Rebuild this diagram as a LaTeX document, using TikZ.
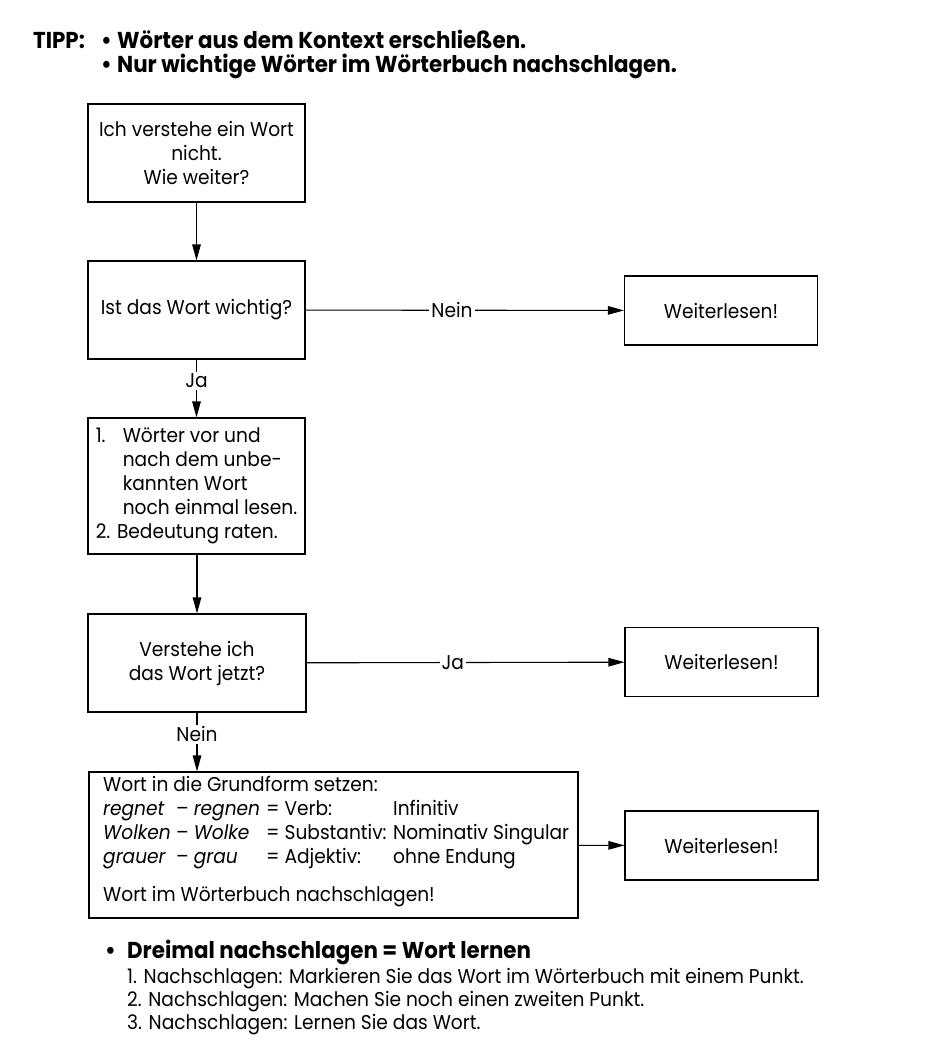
\documentclass[tikz,border=0pt]{standalone}
\usepackage{fontspec}
\setmainfont{Poppins}[FakeStretch=0.93]
\usetikzlibrary{arrows.meta}
\newcommand{\txt}{\fontsize{20}{24}\selectfont}
\newcommand{\hdr}{\fontsize{23}{24}\selectfont\bfseries}
\begin{document}
\begin{tikzpicture}[x=1pt, y=-1pt,
  box/.style={draw, line width=1.1pt, minimum width=217pt, minimum height=98pt, align=center, inner sep=0pt, font=\txt},
  weiter/.style={draw, line width=1.1pt, minimum width=193pt, minimum height=69pt, font=\txt},
  pfeil/.style={-{Triangle[length=16pt,width=8.5pt]}, line width=1.1pt},
  lab/.style={fill=white, inner sep=2pt, font=\txt}]
\useasboundingbox (0,0) rectangle (950,1063);
% Tipp
\node[anchor=base west, inner sep=0pt, font=\hdr] (tipp) at (33,48) {TIPP:};
\node[anchor=base west, inner sep=0pt, font=\hdr] (tippa) at (101,48) {\makebox[16pt][l]{•}Wörter aus dem Kontext erschließen.};
\node[anchor=base west, inner sep=0pt, font=\hdr] (tippb) at (101,72) {\makebox[16pt][l]{•}Nur wichtige Wörter im Wörterbuch nachschlagen.};
% Flussdiagramm
\node[box] (start) at (196.5,153) {Ich verstehe ein Wort\\nicht.\\Wie weiter?};
\node[box] (wichtig) at (196.5,310) {Ist das Wort wichtig?};
\node[weiter] (weiterA) at (721,310.5) {Weiterlesen!};
\node[box, minimum height=136pt] (lesen) at (196.5,486) {\begin{tabular}{@{}p{27pt}@{}l@{}}
1. & Wörter vor und\\
   & nach dem unbe-\\
   & kannten Wort\\
   & noch einmal lesen.\\
\multicolumn{2}{@{}l@{}}{2. Bedeutung raten.}
\end{tabular}};
\node[box, minimum width=218pt] (jetzt) at (197,663) {Verstehe ich\\das Wort jetzt?};
\node[weiter] (weiterB) at (721.5,662) {Weiterlesen!};
\node[box, minimum width=489pt, minimum height=146pt] (grundform) at (333.5,845) {};
\node[anchor=base west, inner sep=0pt, font=\txt] (grundtxt) at (103,791) {\begin{tabular}[t]{@{}p{73pt}@{}p{90pt}@{}p{127pt}@{}l@{}}
\multicolumn{4}{@{}l@{}}{Wort in die Grundform setzen:}\\
\textit{regnet} & – \textit{regnen} & = Verb: & Infinitiv\\
\textit{Wolken} & – \textit{Wolke} & = Substantiv: & Nominativ Singular\\
\textit{grauer} & – \textit{grau} & = Adjektiv: & ohne Endung\\[14pt]
\multicolumn{4}{@{}l@{}}{Wort im Wörterbuch nachschlagen!}
\end{tabular}};
\node[weiter] (weiterC) at (721.5,845.5) {Weiterlesen!};
% Pfeile
\draw[pfeil] (start) -- (wichtig);
\draw[pfeil] (wichtig) -- node[lab, pos=0.46] {Nein} (weiterA);
\draw[pfeil] (wichtig) -- node[lab, pos=0.37] {Ja} (lesen);
\draw[pfeil] (lesen.south -| jetzt.north) -- (jetzt);
\draw[pfeil] (jetzt) -- node[lab, pos=0.46] {Ja} (weiterB);
\draw[pfeil] (jetzt) -- node[lab, pos=0.37] {Nein} (jetzt.south |- grundform.north);
\draw[pfeil] (grundform) -- (weiterC);
% Dreimal nachschlagen
\node[anchor=base west, inner sep=0pt, font=\hdr] (dreimal) at (105,958) {\makebox[22pt][l]{•}Dreimal nachschlagen = Wort lernen};
\node[anchor=base west, inner sep=0pt, font=\txt] (schritt1) at (127,983) {1. Nachschlagen: Markieren Sie das Wort im Wörterbuch mit einem Punkt.};
\node[anchor=base west, inner sep=0pt, font=\txt] (schritt2) at (127,1006) {2. Nachschlagen: Machen Sie noch einen zweiten Punkt.};
\node[anchor=base west, inner sep=0pt, font=\txt] (schritt3) at (127,1029) {3. Nachschlagen: Lernen Sie das Wort.};
\end{tikzpicture}
\end{document}
